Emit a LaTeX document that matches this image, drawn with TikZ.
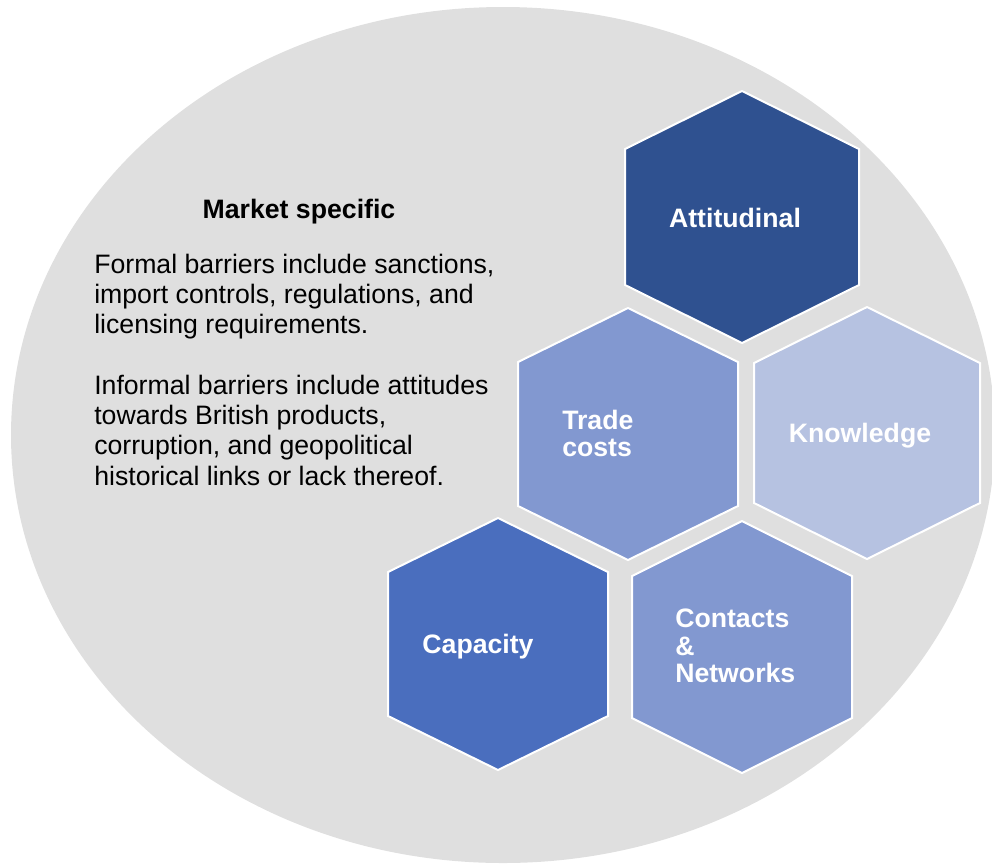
\documentclass[tikz,border=0pt]{standalone}
\usepackage{fontspec}
\setmainfont{Liberation Sans}
\definecolor{backgrey}{HTML}{DFDFDF}
\definecolor{navyhex}{HTML}{2F5190}
\definecolor{royalhex}{HTML}{4A6EBE}
\definecolor{midhex}{HTML}{8298D0}
\definecolor{palehex}{HTML}{B6C2E1}
% pointy-top cell: centre (#2,#3), half width #4, half side #5
\def\hexcell[#1](#2,#3)(#4:#5){\draw[#1] (#2,#3-126) -- (#2+#4,#3-#5) -- (#2+#4,#3+#5) -- (#2,#3+126) -- (#2-#4,#3+#5) -- (#2-#4,#3-#5) -- cycle;}
\tikzset{
  cell/.style={draw=white, line width=1.5pt, line join=miter},
  celltext/.style={text=white, inner sep=0pt, align=left, font=\fontsize{20}{20.5}\selectfont\bfseries},
  bodytext/.style={inner sep=0pt, align=left, font=\fontsize{20}{22.6}\selectfont}
}

\begin{document}
\begin{tikzpicture}[x=0.75pt, y=-0.75pt]
		%%%%% START %%%%%
		\useasboundingbox (0,0) rectangle (992,865);
		\clip (0,0) rectangle (992,865);
		
		\fill[backgrey] (503,435) ellipse [x radius=492, y radius=428];
		
		\node[bodytext, font=\fontsize{20}{22.6}\selectfont\bfseries, anchor=base] (title) at (299,218) {Market specific};
		\node[bodytext, anchor=north west] (formal) at (94,254) {Formal barriers include sanctions,\\import controls, regulations, and\\licensing requirements.};
		\node[bodytext, anchor=north west] (informal) at (94,375) {Informal barriers include attitudes\\towards British products,\\corruption, and geopolitical\\historical links or lack thereof.};
		
		\hexcell[cell, fill=navyhex](742,217)(117:68);
		\hexcell[cell, fill=midhex](628,434)(110:72);
		\hexcell[cell, fill=palehex](867,433)(113:70);
		\hexcell[cell, fill=royalhex](498,644)(110:72);
		\hexcell[cell, fill=midhex](742,647)(110:71);
		
		\node[celltext, anchor=base] (attitudinal) at (735,227) {Attitudinal};
		\node[celltext, anchor=north west] (trade) at (562,410) {Trade\\costs};
		\node[celltext, anchor=base] (knowledge) at (860,442) {Knowledge};
		\node[celltext, anchor=base] (capacity) at (478,653) {Capacity};
		\node[celltext, anchor=north west] (contacts) at (675,609) {Contacts\\\&\\Networks};
		%%%%% END %%%%%
\end{tikzpicture}
\end{document}
